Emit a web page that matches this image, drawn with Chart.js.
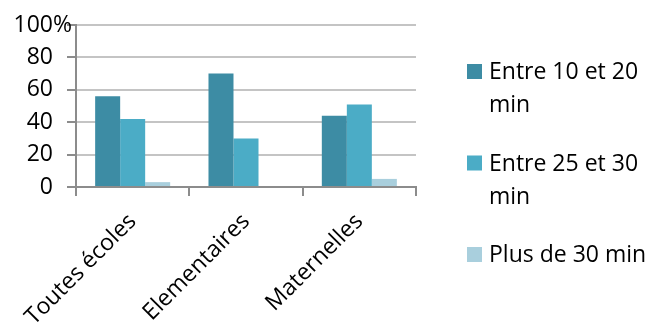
<!DOCTYPE html>
<html><head><meta charset="utf-8">
<script src="https://cdn.jsdelivr.net/npm/chart.js@4.4.1/dist/chart.umd.min.js"></script>
<style>html,body{margin:0;padding:0;background:#fff;overflow:hidden}#wrap{width:648px;height:322px;position:relative;overflow:hidden}</style>
</head><body><div id="wrap"><canvas id="c" width="648" height="322"></canvas></div>
<script>
const categories = ['Toutes écoles', 'Elementaires', 'Maternelles'];
const seriesNames = ['Entre 10 et 20 min', 'Entre 25 et 30 min', 'Plus de 30 min'];
const entre10et20 = [56, 70, 44];
const entre25et30 = [42, 30, 51];
const plusDe30 = [3, 0, 5];
const yTicks = [0, 20, 40, 60, 80, 100];
const yTickLabels = ['0', '20', '40', '60', '80', '100'];

const colors = ['#3D8CA4', '#4BACC6', '#A9CFDD'];
const FONT = '"Open Sans", "DejaVu Sans", sans-serif';
const AXIS = '#8C8C8C';
const GRID = '#C4C4C4';

function wrapText(ctx, text, maxW) {
  const words = text.split(' ');
  const lines = [];
  let cur = '';
  words.forEach(w => {
    const t = cur ? cur + ' ' + w : w;
    if (cur && ctx.measureText(t).width > maxW) { lines.push(cur); cur = w; }
    else cur = t;
  });
  if (cur) lines.push(cur);
  return lines;
}

const sidePlugin = {
  id: 'sidePlugin',
  afterDraw(chart) {
    const ctx = chart.ctx;
    const area = chart.chartArea;
    ctx.save();
    ctx.font = '23px ' + FONT;
    ctx.fillStyle = '#000';
    // y tick labels (percent sign hangs after the right-aligned digits)
    const ys = chart.scales.y;
    ctx.textBaseline = 'middle';
    ys.ticks.forEach((t) => {
      const y = ys.getPixelForValue(t.value);
      ctx.textAlign = 'right';
      ctx.fillText(yTickLabels[yTicks.indexOf(t.value)], area.left - 23, y);
      if (t.value === 100) {
        ctx.textAlign = 'left';
        ctx.fillText('%', area.left - 23, y);
      }
    });
    // legend
    ctx.textAlign = 'left';
    ctx.textBaseline = 'alphabetic';
    const boxX = area.right + 51;
    const textX = boxX + 22;
    const maxW = chart.width - textX + 4;
    chart.data.datasets.forEach((ds, i) => {
      const top = 64 + i * 91.5;
      ctx.fillStyle = ds.backgroundColor;
      ctx.fillRect(boxX, top, 15, 15);
      ctx.fillStyle = '#000';
      wrapText(ctx, ds.label, maxW).forEach((ln, j) => ctx.fillText(ln, textX, top + 15 + j * 33));
    });
    ctx.restore();
  }
};

function draw() {
  new Chart(document.getElementById('c'), {
    type: 'bar',
    data: {
      labels: categories,
      datasets: [
        { label: seriesNames[0], data: entre10et20, backgroundColor: colors[0] },
        { label: seriesNames[1], data: entre25et30, backgroundColor: colors[1] },
        { label: seriesNames[2], data: plusDe30, backgroundColor: colors[2] }
      ]
    },
    options: {
      responsive: false,
      animation: false,
      events: [],
      datasets: { bar: { categoryPercentage: 0.662, barPercentage: 1, borderWidth: 0 } },
      layout: { padding: { top: 25, right: 232, left: 0, bottom: 0 } },
      plugins: { legend: { display: false }, tooltip: { enabled: false }, title: { display: false } },
      scales: {
        x: {
          afterFit(s) { s.height = 135; },
          grid: { drawOnChartArea: false, drawTicks: true, tickLength: 9, color: AXIS, lineWidth: 2, offset: true },
          border: { display: true, color: AXIS, width: 2 },
          ticks: { autoSkip: false, minRotation: 45, maxRotation: 45, color: '#000', padding: 12, font: { family: FONT, size: 23 } }
        },
        y: {
          min: 0, max: 100,
          afterFit(s) { s.width = 76; },
          afterBuildTicks(s) { s.ticks = yTicks.map(v => ({ value: v })); },
          grid: { color: GRID, lineWidth: 2, drawTicks: true, tickLength: 9, tickColor: AXIS },
          border: { display: true, color: AXIS, width: 2 },
          ticks: { display: false }
        }
      }
    },
    plugins: [sidePlugin]
  });
}
if (document.fonts && document.fonts.load) {
  document.fonts.load('23px "Open Sans"').then(draw, draw);
} else draw();
</script>
</body></html>
